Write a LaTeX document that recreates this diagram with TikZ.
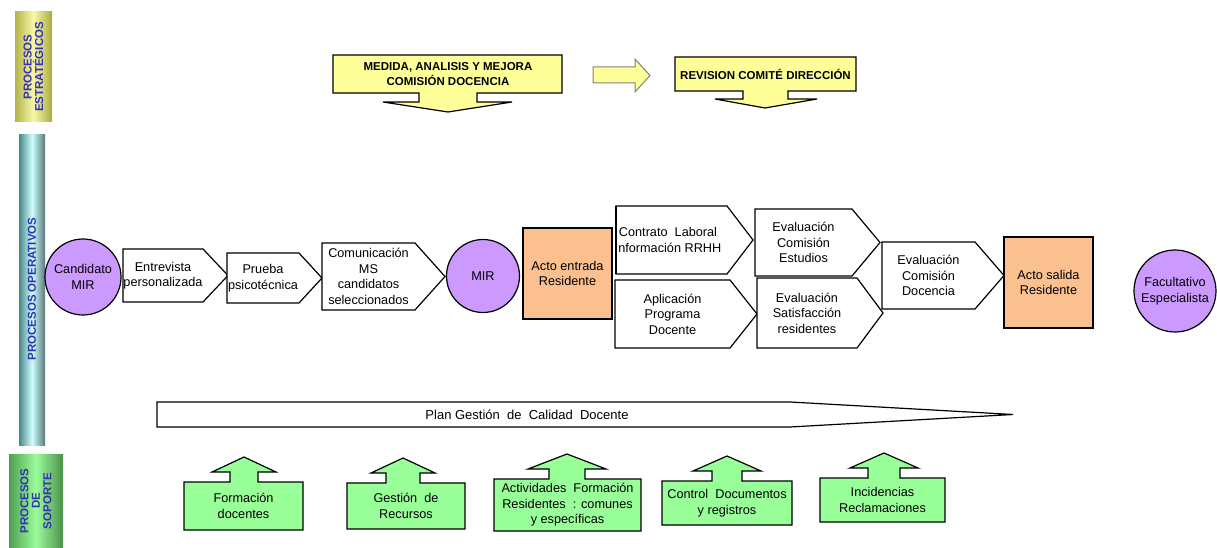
\documentclass[tikz,border=0pt]{standalone}
\usepackage{fontspec}
\setmainfont{Liberation Sans}
\usetikzlibrary{calc}

\definecolor{stratyellow}{RGB}{255,255,153}
\definecolor{personlila}{RGB}{204,153,255}
\definecolor{residorange}{RGB}{250,192,144}
\definecolor{supgreen}{RGB}{153,255,153}
\definecolor{barblue}{RGB}{50,50,180}

\tikzset{
	proc/.style={draw=black, line width=1.2bp, fill=white},
	person/.style={circle, draw=black, line width=1.2bp, fill=personlila, align=center, inner sep=0pt, font=\fontsize{12.7bp}{15.5bp}\selectfont},
	resid/.style={rectangle, draw=black, line width=1.2bp, fill=residorange, align=center, font=\fontsize{12.7bp}{15.5bp}\selectfont},
	strat/.style={draw=black, line width=1.2bp, fill=stratyellow},
	supbox/.style={draw=black, line width=1.2bp, fill=supgreen},
	lbl/.style={align=center, inner sep=0pt, font=\fontsize{12.7bp}{15.5bp}\selectfont},
	stratlbl/.style={align=center, inner sep=0pt, font=\bfseries\fontsize{11.5bp}{15bp}\selectfont},
	barlabel/.style={rotate=90, align=center, inner sep=0pt, text=barblue, font=\bfseries\fontsize{11.5bp}{11.5bp}\selectfont}
}

\newcommand{\procarrow}[7]{
	\draw[proc] (#2,#3) -- (#4,#3) -- (#5,{(#3+#6)/2}) -- (#4,#6) -- (#2,#6) -- cycle;
	\node[lbl] (#1) at ({(#2+#4)/2},{(#3+#6)/2}) {#7};
}
\newcommand{\suparrow}[9]{
	\draw[supbox] (#2,#5) -- (#2,#3) -- ({#6-#7},#3) -- ({#6-#7},{#3-10}) -- ({#6-#8},{#3-10})
		-- (#6,{#3-25}) -- ({#6+#8},{#3-10}) -- ({#6+#7},{#3-10}) -- ({#6+#7},#3) -- (#4,#3) -- (#4,#5) -- cycle;
	\node[lbl] (#1) at ({(#2+#4)/2},{(#3+#5)/2}) {#9};
}

\begin{document}
\begin{tikzpicture}[x=1bp, y=-1bp]
	\useasboundingbox (0,0) rectangle (1217,548);

	\shade[left color={rgb,255:red,180;green,180;blue,75}, right color={rgb,255:red,170;green,170;blue,65}, middle color={rgb,255:red,248;green,248;blue,170}] (15,12) rectangle (52,122);
	\node[barlabel] (estr) at (33.5,67) {PROCESOS\\ESTRATÉGICOS};
	\shade[left color={rgb,255:red,75;green,135;blue,135}, right color={rgb,255:red,90;green,120;blue,120}, middle color={rgb,255:red,205;green,255;blue,255}] (19,135) rectangle (45,445);
	\node[barlabel] (oper) at (32,289) {PROCESOS OPERATIVOS};
	\shade[left color={rgb,255:red,80;green,160;blue,80}, right color={rgb,255:red,75;green,145;blue,75}, middle color={rgb,255:red,155;green,252;blue,155}] (9,454) rectangle (63,548);
	\node[barlabel] (sopo) at (36,501) {PROCESOS\\DE\\SOPORTE};

	\draw[strat] (333,55) -- (562,55) -- (562,93) -- (477,93) -- (477,102) -- (512,102) -- (448,112)
		-- (383,102) -- (419,102) -- (419,93) -- (333,93) -- cycle;
	\node[stratlbl] (medida) at (448,74) {MEDIDA, ANALISIS Y MEJORA\\COMISIÓN DOCENCIA};
	\draw[fill=stratyellow, draw=gray, line width=1bp] (593,67) -- (635,67) -- (635,59) -- (650,75.5)
		-- (635,92) -- (635,83) -- (593,83) -- cycle;
	\draw[strat] (675,57) -- (856,57) -- (856,91) -- (788,91) -- (788,99) -- (817,99) -- (765,108)
		-- (715,99) -- (743,99) -- (743,91) -- (675,91) -- cycle;
	\node[stratlbl] (revision) at (765.5,74) {REVISION COMITÉ DIRECCIÓN};

	\node[person, minimum size=76bp] (cand) at (83,277) {Candidato\\MIR};
	\procarrow{entrev}{123}{249}{203}{228}{302}{Entrevista\\personalizada}
	\procarrow{prueba}{227}{253}{299}{322}{303}{Prueba\\psicotécnica}
	\procarrow{comun}{322}{243}{415}{445}{310}{Comunicación\\MS\\candidatos\\seleccionados}
	\node[person, minimum size=73bp] (mir) at (483,276) {MIR};
	\node[resid, minimum width=89bp, minimum height=91bp] (entrada) at (567.5,273.5) {Acto entrada\\Residente};
	\draw[proc] (616,206) -- (727,206) -- (753,240) -- (727,274) -- (616,274) -- cycle;
	\node[lbl] (contrato) at (668,240) {Contrato\ \ Laboral\\Información RRHH};
	\draw[line width=1.2bp] (616,206) -- (616,274);
	\procarrow{aplic}{615}{280}{730}{757}{348}{Aplicación\\Programa\\Docente}
	\procarrow{evalest}{755}{209}{852}{880}{276}{Evaluación\\Comisión\\Estudios}
	\procarrow{evalsat}{757}{278}{857}{883}{348}{Evaluación\\Satisfacción\\residentes}
	\procarrow{evaldoc}{882}{242}{975}{1004}{309}{Evaluación\\Comisión\\Docencia}
	\node[resid, minimum width=89bp, minimum height=91bp] (salida) at (1048.5,282.5) {Acto salida\\Residente};
	\node[person, minimum size=82bp] (facul) at (1175,291) {Facultativo\\Especialista};

	\draw[proc] (157,402) -- (790,402) -- (1013,414.5) -- (790,427) -- (157,427) -- cycle;
	\node[lbl, font=\fontsize{13bp}{15bp}\selectfont] (plan) at (527,414.5) {Plan Gestión\ \ de\ \ Calidad\ \ Docente};

	\suparrow{formdoc}{184}{482}{303}{530}{244}{14}{32}{Formación\\docentes}
	\suparrow{recursos}{347}{483}{465}{529}{403}{17}{32}{Gestión\ \ de\\Recursos}
	\suparrow{activ}{494}{479}{641}{531}{567}{18}{39}{Actividades\ \ Formación\\Residentes\ \ : comunes\\y específicas}
	\suparrow{control}{662}{481}{792}{525}{727}{15}{34}{Control\ \ Documentos\\y registros}
	\suparrow{incid}{820}{478}{945}{522}{884}{16}{34}{Incidencias\\Reclamaciones}
\end{tikzpicture}
\end{document}
